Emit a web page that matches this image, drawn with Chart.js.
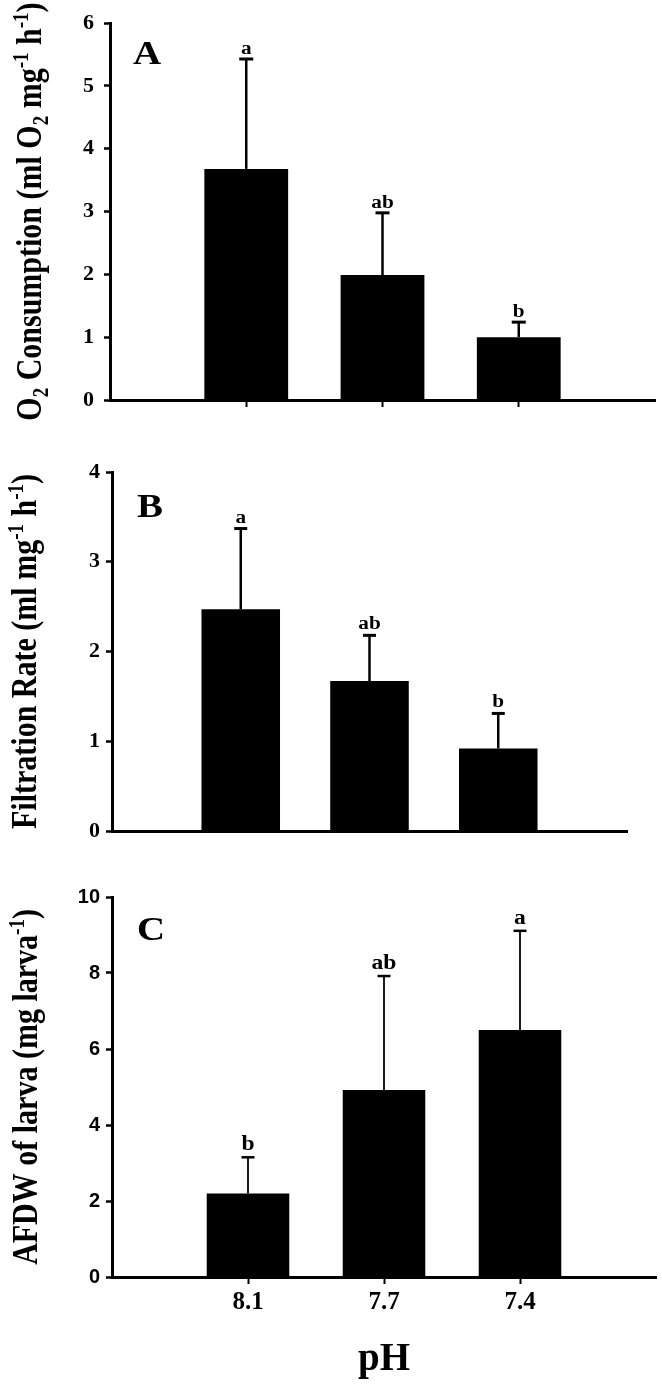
<!DOCTYPE html>
<html>
<head>
<meta charset="utf-8">
<script src="https://cdn.jsdelivr.net/npm/chart.js@4.4.1/dist/chart.umd.min.js"></script>
<style>
  html, body { margin: 0; padding: 0; background: #fff; }
  #fig { position: relative; width: 662px; height: 1387px; }
  canvas { position: absolute; left: 0; }
</style>
</head>
<body>
<div id="fig">
  <canvas id="panelA" width="662" height="440" style="top:0px"></canvas>
  <canvas id="panelB" width="662" height="430" style="top:440px"></canvas>
  <canvas id="panelC" width="662" height="517" style="top:870px"></canvas>
</div>
<script>
const categories = ["8.1", "7.7", "7.4"];

// A - O2 consumption
const o2Mean = [3.68, 1.99, 1.00];
const o2Se = [1.75, 0.99, 0.24];
const o2Letters = ["a", "ab", "b"];
const o2Ticks = [0, 1, 2, 3, 4, 5, 6];
const o2Title = [["O", ""], ["2", "sub"], [" Consumption (ml O", ""], ["2", "sub"], [" mg", ""], ["-1", "sup"], [" h", ""], ["-1", "sup"], [")", ""]];

// B - filtration rate
const frMean = [2.47, 1.67, 0.92];
const frSe = [0.90, 0.51, 0.39];
const frLetters = ["a", "ab", "b"];
const frTicks = [0, 1, 2, 3, 4];
const frTitle = [["Filtration Rate (ml mg", ""], ["-1", "sup"], [" h", ""], ["-1", "sup"], [")", ""]];

// C - AFDW
const afdwMean = [2.20, 4.92, 6.50];
const afdwSe = [0.95, 3.00, 2.61];
const afdwLetters = ["b", "ab", "a"];
const afdwTicks = [0, 2, 4, 6, 8, 10];
const afdwTitle = [["AFDW of larva (mg larva", ""], ["-1", "sup"], [")", ""]];

const SERIF = '"Liberation Serif", "Times New Roman", serif';
const SANS = '"Liberation Sans", Arial, sans-serif';
const STRETCH = 1.18; // the original figure is a bit wider than tall

function drawRotatedTitle(ctx, parts, bx, cy, size) {
  const fontFor = kind => `bold ${kind ? Math.round(size * 0.62) : size}px ${SERIF}`;
  let total = 0;
  const widths = parts.map(([t, kind]) => {
    ctx.font = fontFor(kind);
    const w = ctx.measureText(t).width;
    total += w;
    return w;
  });
  ctx.save();
  ctx.translate(bx, cy);
  ctx.scale(STRETCH, 1);
  ctx.rotate(-Math.PI / 2);
  ctx.fillStyle = "#000";
  ctx.textBaseline = "alphabetic";
  ctx.textAlign = "left";
  let x = -total / 2;
  parts.forEach(([t, kind], i) => {
    ctx.font = fontFor(kind);
    let dy = 0;
    if (kind === "sub") dy = size * 0.2;
    if (kind === "sup") dy = -size * 0.38;
    ctx.fillText(t, x, dy);
    x += widths[i];
  });
  ctx.restore();
}

function figurePlugin(p) {
  return {
    id: "figure",
    afterDatasetsDraw(chart) {
      const ctx = chart.ctx;
      const xs = chart.scales.x, ys = chart.scales.y;
      const area = chart.chartArea;
      ctx.save();
      ctx.strokeStyle = "#000";
      ctx.fillStyle = "#000";
      p.mean.forEach((m, i) => {
        const px = xs.getPixelForValue(i + 1);
        const top = ys.getPixelForValue(m + p.se[i]);
        const base = ys.getPixelForValue(m);
        ctx.lineWidth = p.stem;
        ctx.beginPath();
        ctx.moveTo(px, base);
        ctx.lineTo(px, top);
        ctx.stroke();
        ctx.lineWidth = p.capLine;
        ctx.beginPath();
        ctx.moveTo(px - p.cap / 2, top);
        ctx.lineTo(px + p.cap / 2, top);
        ctx.stroke();

        ctx.save();
        ctx.translate(px, top - p.letterGap);
        ctx.scale(STRETCH, 1);
        ctx.font = `bold ${p.letterSize}px ${SERIF}`;
        ctx.textAlign = "center";
        ctx.textBaseline = "alphabetic";
        ctx.fillText(p.letters[i], 0, 0);
        ctx.restore();
      });

      // panel letter
      ctx.save();
      ctx.translate(area.left + p.tag[1], area.top + p.tag[2]);
      ctx.scale(STRETCH, 1);
      ctx.font = `bold 33px ${SERIF}`;
      ctx.textAlign = "left";
      ctx.textBaseline = "alphabetic";
      ctx.fillText(p.tag[0], 0, 0);
      ctx.restore();

      drawRotatedTitle(ctx, p.title, p.titleX, (area.top + area.bottom) / 2, 30);
      ctx.restore();
    }
  };
}

function makePanel(id, p) {
  const h = document.getElementById(id).height;
  const xHeight = p.xHeight;
  new Chart(document.getElementById(id), {
    type: "bar",
    data: {
      labels: ["", ...categories, ""],
      datasets: [{
        data: [null, ...p.mean, null],
        backgroundColor: "#000",
        borderWidth: 0,
        barPercentage: p.barPct,
        categoryPercentage: 1
      }]
    },
    options: {
      responsive: false,
      animation: false,
      devicePixelRatio: 1,
      layout: {
        padding: { left: 0, top: p.area[1], right: 662 - p.area[2], bottom: h - p.area[3] - xHeight }
      },
      plugins: { legend: { display: false }, tooltip: { enabled: false } },
      scales: {
        x: {
          type: "category",
          offset: false,
          afterFit: s => { s.height = xHeight; },
          border: { display: true, color: "#000", width: 3 },
          grid: {
            offset: false,
            drawOnChartArea: false,
            drawTicks: true,
            tickLength: 7,
            tickWidth: 2,
            tickColor: c => (p.xTickMarks && c.index >= 1 && c.index <= 3) ? "#000" : "rgba(0,0,0,0)"
          },
          ticks: {
            display: p.xLabels,
            color: "#000",
            padding: 4,
            maxRotation: 0,
            autoSkip: false,
            font: { family: SERIF, size: 25, weight: "bold" }
          },
          title: {
            display: p.xLabels,
            text: "pH",
            color: "#000",
            padding: { top: 0, bottom: 4 },
            font: { family: SERIF, size: 39, weight: "bold" }
          }
        },
        y: {
          min: p.ticks[0],
          max: p.ticks[p.ticks.length - 1],
          afterFit: s => { s.width = p.area[0]; },
          afterBuildTicks: s => { s.ticks = p.ticks.map(v => ({ value: v })); },
          border: { display: true, color: "#000", width: 3 },
          grid: {
            drawOnChartArea: false,
            drawTicks: true,
            tickLength: 6,
            tickWidth: 2.5,
            tickColor: "#000"
          },
          ticks: {
            color: "#000",
            padding: p.yPad,
            font: { family: p.yFont, size: p.ySize, weight: "bold" }
          }
        }
      }
    },
    plugins: [figurePlugin(p)]
  });
}

makePanel("panelA", {
  mean: o2Mean, se: o2Se, letters: o2Letters, ticks: o2Ticks, title: o2Title,
  area: [110, 22, 655, 400], xHeight: 30, xTickMarks: true, xLabels: false,
  barPct: 0.615, yFont: SERIF, ySize: 22, yPad: 10,
  stem: 2.5, capLine: 3, cap: 14, letterGap: 5, letterSize: 18,
  tag: ["A", 23, 41], titleX: 41
});

makePanel("panelB", {
  mean: frMean, se: frSe, letters: frLetters, ticks: frTicks, title: frTitle,
  area: [112, 32, 627, 391], xHeight: 30, xTickMarks: false, xLabels: false,
  barPct: 0.61, yFont: SERIF, ySize: 22, yPad: 6,
  stem: 2.5, capLine: 3, cap: 13, letterGap: 6, letterSize: 18,
  tag: ["B", 25, 45], titleX: 36
});

makePanel("panelC", {
  mean: afdwMean, se: afdwSe, letters: afdwLetters, ticks: afdwTicks, title: afdwTitle,
  area: [112, 27, 656, 407], xHeight: 110, xTickMarks: true, xLabels: true,
  barPct: 0.607, yFont: SANS, ySize: 20, yPad: 6,
  stem: 1.8, capLine: 2.5, cap: 13, letterGap: 7, letterSize: 20,
  tag: ["C", 25, 43], titleX: 37
});
</script>
</body>
</html>
